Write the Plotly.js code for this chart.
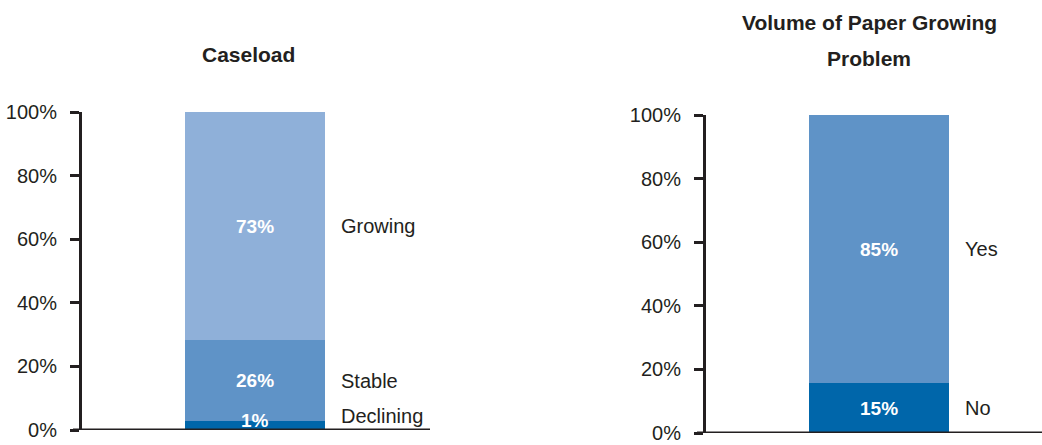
<!DOCTYPE html>
<html><head><meta charset="utf-8">
<script src="https://cdn.plot.ly/plotly-3.0.1.min.js"></script>
<style>html,body{margin:0;padding:0;background:#fff}#c{width:1042px;height:445px}</style>
</head><body><div id="c"></div>
<script>
// Left chart: Caseload (bar heights as drawn, labels as printed)
const caseCategories = ["Declining", "Stable", "Growing"];
const caseValues = [2.8, 25.5, 71.7];
const caseLabels = ["1%", "26%", "73%"];
const caseColors = ["#0066AA", "#5F93C7", "#8FB0D9"];
// Right chart: Volume of Paper Growing Problem
const paperCategories = ["No", "Yes"];
const paperValues = [15.7, 84.3];
const paperLabels = ["15%", "85%"];
const paperColors = ["#0066AA", "#5F93C7"];
const yTicks = [0, 20, 40, 60, 80, 100];
const yTickText = ["0%", "20%", "40%", "60%", "80%", "100%"];
const titleLeft = "Caseload";
const titleRightLines = ["Volume of Paper Growing", "Problem"];

const FONT = "'Liberation Sans', Arial, sans-serif";
const traces = [];
const annotations = [];

function addStack(cats, vals, labels, colors, xa, ya, minMid) {
  let cum = 0;
  cats.forEach((c, i) => {
    traces.push({type: 'bar', x: [0], y: [vals[i]], width: [1], name: c,
      marker: {color: colors[i], line: {width: 0}}, xaxis: xa, yaxis: ya,
      hoverinfo: 'skip', showlegend: false});
    const mid = cum + vals[i] / 2;
    annotations.push({xref: xa, yref: ya, x: 0, y: Math.max(mid, minMid), text: '<b>' + labels[i] + '</b>',
      showarrow: false, font: {family: FONT, size: 19, color: '#ffffff'}, xanchor: 'center', yanchor: 'middle'});
    annotations.push({xref: xa, yref: ya, x: 0.6, y: Math.max(mid, minMid + 1.3), text: c,
      showarrow: false, font: {family: FONT, size: 20, color: '#231F20'}, xanchor: 'left', yanchor: 'middle'});
    cum += vals[i];
  });
}
addStack(caseCategories, caseValues, caseLabels, caseColors, 'x', 'y', 3.1);
addStack(paperCategories, paperValues, paperLabels, paperColors, 'x2', 'y2', 3.1);

annotations.push({xref: 'paper', yref: 'paper', x: 248/1042, y: 1 - 55/445, text: '<b>' + titleLeft + '</b>',
  showarrow: false, font: {family: FONT, size: 21, color: '#231F20'}, xanchor: 'center', yanchor: 'middle'});
titleRightLines.forEach((t, i) => {
  annotations.push({xref: 'paper', yref: 'paper', x: 869/1042, y: 1 - (23 + i * 35)/445, text: '<b>' + t + '</b>',
    showarrow: false, font: {family: FONT, size: 21, color: '#231F20'}, xanchor: 'center', yanchor: 'middle'});
});

const yax = (dom, anchor) => ({domain: dom, anchor: anchor, range: [0, 100], tickvals: yTicks, ticktext: yTickText,
  ticks: 'outside', ticklen: 9, tickwidth: 3, tickcolor: '#231F20', showline: true, linewidth: 3,
  linecolor: '#231F20', showgrid: false, zeroline: false, ticklabelstandoff: 9,
  tickfont: {family: FONT, size: 20, color: '#231F20'}, fixedrange: true});
const xax = (dom, rng, anchor) => ({domain: dom, range: rng, anchor: anchor, showticklabels: false, ticks: '',
  showline: false, showgrid: false, zeroline: false, fixedrange: true});

const layout = {
  width: 1042, height: 445, margin: {l: 0, r: 0, t: 0, b: 0},
  paper_bgcolor: '#fff', plot_bgcolor: '#fff', barmode: 'stack', showlegend: false,
  xaxis: xax([82/1042, 430/1042], [-1.2357, 1.25], 'y'),
  yaxis: yax([1 - 430/445, 1 - 112/445], 'x'),
  xaxis2: xax([706/1042, 1], [-1.2357, 1.164], 'y2'),
  yaxis2: yax([1 - 433/445, 1 - 115/445], 'x2'),
  annotations: annotations,
  shapes: [
    {type: 'line', xref: 'paper', yref: 'y', x0: 73/1042, x1: 430/1042, y0: 0, y1: 0, line: {color: '#231F20', width: 3}},
    {type: 'line', xref: 'paper', yref: 'y2', x0: 697/1042, x1: 1, y0: 0, y1: 0, line: {color: '#231F20', width: 3}}
  ]
};
Plotly.newPlot('c', traces, layout, {displayModeBar: false, staticPlot: true});
</script></body></html>
